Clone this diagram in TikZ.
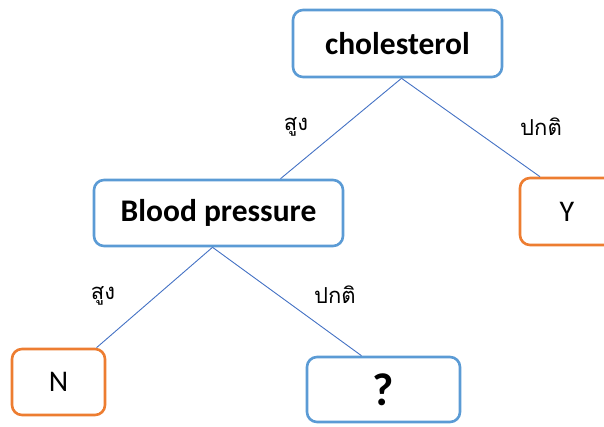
\documentclass[tikz,border=0pt]{standalone}
\usepackage{fontspec}
\setmainfont{Carlito}
\newfontfamily\thaifont[Script=Thai]{Loma}
\usetikzlibrary{positioning, calc}

\begin{document}
\begin{tikzpicture}[x=1pt, y=-1pt,
  decision/.style={draw=boxblue, line width=2.6pt, rounded corners=10pt, fill=white, font=\bfseries\fontsize{31.5}{34}\selectfont},
  leaf/.style={draw=boxorange, line width=2.6pt, rounded corners=10pt, fill=white, font=\fontsize{30}{32}\selectfont},
  edge/.style={draw=lineblue, line width=0.9pt},
  cond/.style={font=\thaifont\fontsize{22}{24}\selectfont}]
\definecolor{boxblue}{HTML}{5B9BD5}
\definecolor{boxorange}{HTML}{ED7D31}
\definecolor{lineblue}{HTML}{4472C4}
\useasboundingbox (0,0) rectangle (604,426);
% decision nodes
\node[decision, minimum width=209pt, minimum height=67pt] (chol) at (397.5,43.5) {cholesterol};
\node[decision, minimum width=249pt, minimum height=66pt] (bp) at (218.5,213) {Blood pressure};
\node[decision, minimum width=153pt, minimum height=65pt, font=\bfseries\fontsize{46}{48}\selectfont] (q) at (383.5,389.5) {?};
% leaves
\node[leaf, minimum width=94pt, minimum height=67pt] (yes) at (567,211.5) {Y};
\node[leaf, minimum width=93pt, minimum height=66pt] (no) at (58.5,382) {N};
% branches
\draw[edge] ([xshift=4pt]chol.south) -- ([xshift=62pt]bp.north);
\draw[edge] ([xshift=4pt]chol.south) -- ([xshift=-27pt]yes.north);
\draw[edge] ([xshift=-6pt]bp.south) -- ([xshift=38pt]no.north);
\draw[edge] ([xshift=-6pt]bp.south) -- ([xshift=-22pt]q.north);
% labels
\node[cond] (l1) at (296,127) {สูง};
\node[cond] (l2) at (541,127) {ปกติ};
\node[cond] (l3) at (103,296) {สูง};
\node[cond] (l4) at (335,295) {ปกติ};
\end{tikzpicture}
\end{document}
